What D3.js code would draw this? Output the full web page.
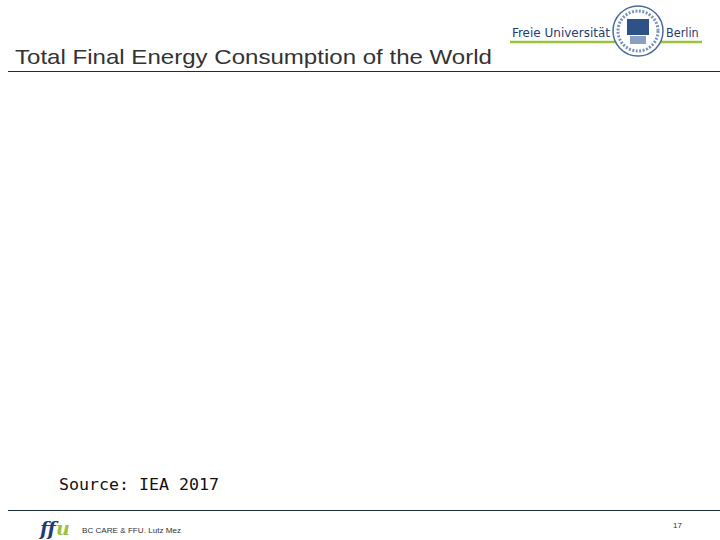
<!DOCTYPE html>
<html><head><meta charset="utf-8">
<script src="https://cdn.jsdelivr.net/npm/d3@7"></script>
<style>body{margin:0;background:#fff}</style></head>
<body><svg id="c" width="720" height="540"></svg>
<script>
const titleText = "Total Final Energy Consumption of the World";
const sourceText = "Source: IEA 2017";
const footerText = "BC CARE & FFU. Lutz Mez";
const pageNumber = ["17"];
const logoWords = ["Freie Universität", "Berlin"];

const svg = d3.select("#c");
svg.append("rect").attr("width",720).attr("height",540).attr("fill","#fff");
svg.append("text").attr("x",15).attr("y",64).attr("font-family","Liberation Sans, Arial").attr("font-size",21).attr("fill","#333").attr("textLength",477).attr("lengthAdjust","spacingAndGlyphs").text(titleText);
svg.append("line").attr("x1",8).attr("x2",720).attr("y1",71.5).attr("y2",71.5).attr("stroke","#1b2f3f").attr("stroke-width",1);
// logo
svg.append("text").attr("x",512).attr("y",37).attr("font-family","DejaVu Sans Condensed, DejaVu Sans").attr("font-size",12.5).attr("fill","#1f3c73").attr("textLength",98).attr("lengthAdjust","spacingAndGlyphs").text(logoWords[0]);
svg.append("text").attr("x",666).attr("y",37).attr("font-family","DejaVu Sans Condensed, DejaVu Sans").attr("font-size",12.5).attr("fill","#1f3c73").text(logoWords[1]);
svg.append("line").attr("x1",510).attr("x2",702).attr("y1",42).attr("y2",42).attr("stroke","#9ac23c").attr("stroke-width",2.5);
const seal = svg.append("g").attr("transform","translate(638,31)");
seal.append("circle").attr("r",25).attr("fill","#fff").attr("stroke","#4a6a9a").attr("stroke-width",1.5);
seal.append("circle").attr("r",20).attr("fill","none").attr("stroke","#7a93b8").attr("stroke-width",3).attr("stroke-dasharray","2,1.5");
seal.append("rect").attr("x",-11).attr("y",-12).attr("width",22).attr("height",16).attr("fill","#2e5187");
seal.append("rect").attr("x",-8).attr("y",5).attr("width",16).attr("height",8).attr("fill","#8aa0c0");
// source
svg.append("text").attr("x",59).attr("y",490).attr("font-family","DejaVu Sans Mono").attr("font-size",16.5).attr("fill","#111").attr("textLength",160).attr("lengthAdjust","spacingAndGlyphs").text(sourceText);
svg.append("line").attr("x1",8).attr("x2",720).attr("y1",510.5).attr("y2",510.5).attr("stroke","#1b2f3f").attr("stroke-width",1);
// ffu logo
svg.append("text").attr("x",40).attr("y",535).attr("font-family","DejaVu Serif").attr("font-style","italic").attr("font-weight","bold").attr("font-size",19).attr("fill","#1f3c73").text("ff");
svg.append("text").attr("x",56).attr("y",535).attr("font-family","DejaVu Serif").attr("font-style","italic").attr("font-weight","bold").attr("font-size",19).attr("fill","#9ac23c").text("u");
svg.append("text").attr("x",82).attr("y",533).attr("font-family","Liberation Sans").attr("font-size",7.5).attr("fill","#333").attr("textLength",99).attr("lengthAdjust","spacingAndGlyphs").text(footerText);
svg.selectAll("text.pn").data(pageNumber).join("text").attr("class","pn").attr("x",673).attr("y",528).attr("font-family","Liberation Sans").attr("font-size",8).attr("fill","#333").text(d=>d);
</script></body></html>
